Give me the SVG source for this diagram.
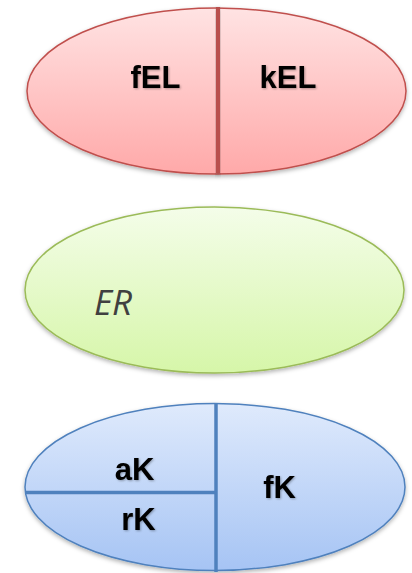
<svg xmlns="http://www.w3.org/2000/svg" width="412" height="573" viewBox="0 0 412 573">
<style>
.lbl{font-family:"Liberation Sans",Arial,sans-serif;font-weight:bold;font-size:31px;fill:#000;text-anchor:middle}
.er{font-family:"Open Sans","Liberation Sans",sans-serif;font-style:italic;font-size:35px;fill:#404040}
</style>
<defs>
<linearGradient id="gr" x1="0" y1="0" x2="0" y2="1"><stop offset="0" stop-color="#ffe3e3"/><stop offset="1" stop-color="#ffa9a9"/></linearGradient>
<linearGradient id="gg" x1="0" y1="0" x2="0" y2="1"><stop offset="0" stop-color="#f4fde9"/><stop offset="1" stop-color="#d6f6a9"/></linearGradient>
<linearGradient id="gb" x1="0" y1="0" x2="0" y2="1"><stop offset="0" stop-color="#dfeafc"/><stop offset="1" stop-color="#a6c4f4"/></linearGradient>
<filter id="sh" x="-10%" y="-10%" width="120%" height="130%"><feDropShadow dx="0" dy="2" stdDeviation="2" flood-color="#000" flood-opacity="0.3"/></filter>
<filter id="ts" x="-10%" y="-10%" width="130%" height="130%"><feDropShadow dx="1" dy="1" stdDeviation="1" flood-color="#000" flood-opacity="0.3"/></filter>
</defs>
<g id="red">
<ellipse cx="216.5" cy="91" rx="189.5" ry="83" fill="url(#gr)" stroke="#c0504d" stroke-width="1.5" filter="url(#sh)"/>
<rect x="216" y="7" width="4" height="166" fill="#b9504d" filter="url(#sh)"/>
<text class="lbl" x="155.5" y="88" filter="url(#ts)">fEL</text>
<text class="lbl" x="288" y="88" filter="url(#ts)">kEL</text>
</g>
<g id="green">
<ellipse cx="214.5" cy="290" rx="189.5" ry="83" fill="url(#gg)" stroke="#9bbb59" stroke-width="1.5" filter="url(#sh)"/>
<text class="er" x="94" y="315">ER</text>
</g>
<g id="blue">
<ellipse cx="215" cy="487" rx="190" ry="83.5" fill="url(#gb)" stroke="#4f81bd" stroke-width="1.5" filter="url(#sh)"/>
<g id="connectors">
<line x1="216" y1="403" x2="216" y2="572" stroke="#4f81bd" stroke-width="3.5"/>
<line x1="26" y1="492.5" x2="216" y2="492.5" stroke="#4f81bd" stroke-width="3.5"/>
</g>
<text class="lbl" x="134.5" y="480" filter="url(#ts)">aK</text>
<text class="lbl" x="138.5" y="530" filter="url(#ts)">rK</text>
<text class="lbl" x="279.5" y="498" filter="url(#ts)">fK</text>
</g>
</svg>
